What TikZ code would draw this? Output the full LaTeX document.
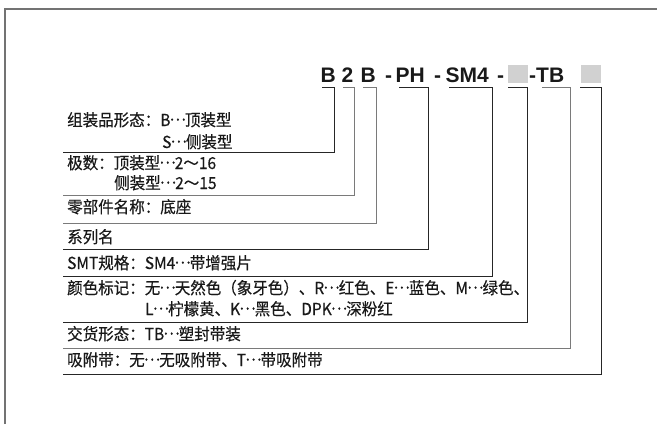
\documentclass[tikz,border=0pt]{standalone}
\usepackage{fontspec}
\newfontfamily\cjk[FakeStretch=0.94,FakeBold=0.4]{Noto Sans CJK SC}
\newfontfamily\ttl{Liberation Sans}
\newcommand\dd{\makebox[0.88em][c]{\raisebox{0.33em}{…}}}
\begin{document}
\begin{tikzpicture}[x=1pt,y=-1pt,
  row/.style={anchor=base west,inner sep=0pt,font=\cjk\fontsize{16.5}{16.5}\selectfont,text=black!90},
  code/.style={anchor=base west,inner sep=0pt,font=\ttl\bfseries\fontsize{21}{21}\selectfont,text=black!90},
  blank/.style={fill=black!18,draw=none,minimum width=20pt,minimum height=18pt,inner sep=0pt},
  dk/.style={draw=black!85,line width=1pt},
  gy/.style={draw=black!52,line width=1pt},
  frame/.style={draw=black!55,line width=1.4pt}]
\useasboundingbox (0,0) rectangle (657,424);
\draw[frame] (5,424) -- (5,9) -- (657,9);
% title pieces
\node[code] (t1) at (320.5,82) {B};
\node[code] (t2) at (341.5,82) {2};
\node[code] (t3) at (360.5,82) {B};
\node[code] (t4a) at (385,82) {-};
\node[code] (t4) at (395.5,82) {PH};
\node[code] (t5a) at (434,82) {-};
\node[code] (t5) at (445.5,82) {SM4};
\node[code] (t5b) at (497,82) {-};
\node[blank] (t6) at (518,74) {};
\node[code] (t7) at (529,82) {-TB};
\node[blank] (t8) at (591,74) {};
% rows
\node[row] (r1a) at (67,126) {组装品形态：B\dd 顶装型};
\node[row] (r1b) at (162,148) {S\dd 侧装型};
\node[row] (r2a) at (67,169) {极数：顶装型\dd 2～16};
\node[row] (r2b) at (114,189) {侧装型\dd 2～15};
\node[row] (r3) at (67,213) {零部件名称：底座};
\node[row] (r4) at (67,243) {系列名};
\node[row] (r5) at (67,269) {SMT规格：SM4\dd 带增强片};
\node[row] (r6a) at (67,294) {颜色标记：无\dd 天然色（象牙色）、R\dd 红色、E\dd 蓝色、M\dd 绿色、};
\node[row] (r6b) at (145,315) {L\dd 柠檬黄、K\dd 黑色、DPK\dd 深粉红};
\node[row] (r7) at (67,340) {交货形态：TB\dd 塑封带装};
\node[row] (r8) at (67,366) {吸附带：无\dd 无吸附带、T\dd 带吸附带};
% bracket corners
\coordinate (a1) at (322,87);  \coordinate (e1) at (63,152);
\coordinate (a2) at (343,87);  \coordinate (e2) at (63,195);
\coordinate (a3) at (363,87);  \coordinate (e3) at (63,223);
\coordinate (a4) at (399,87);  \coordinate (e4) at (63,249);
\coordinate (a5) at (449,87);  \coordinate (e5) at (63,276);
\coordinate (a6) at (508,87);  \coordinate (e6) at (63,322);
\coordinate (a7) at (542,87);  \coordinate (e7) at (63,348);
\coordinate (a8) at (580,87);  \coordinate (e8) at (63,374);
\draw[dk] (a1) -- (334,87) -- (334,152) -- (e1);
\draw[gy] (a2) -- (354,87) -- (354,195) -- (e2);
\draw[gy] (a3) -- (376,87) -- (376,223) -- (e3);
\draw[dk] (a4) -- (428,87) -- (428,249) -- (e4);
\draw[dk] (a5) -- (492,87) -- (492,276) -- (e5);
\draw[dk] (a6) -- (527,87) -- (527,322) -- (e6);
\draw[gy] (a7) -- (570,87) -- (570,348) -- (e7);
\draw[dk] (a8) -- (601,87) -- (601,374) -- (e8);
\end{tikzpicture}
\end{document}
